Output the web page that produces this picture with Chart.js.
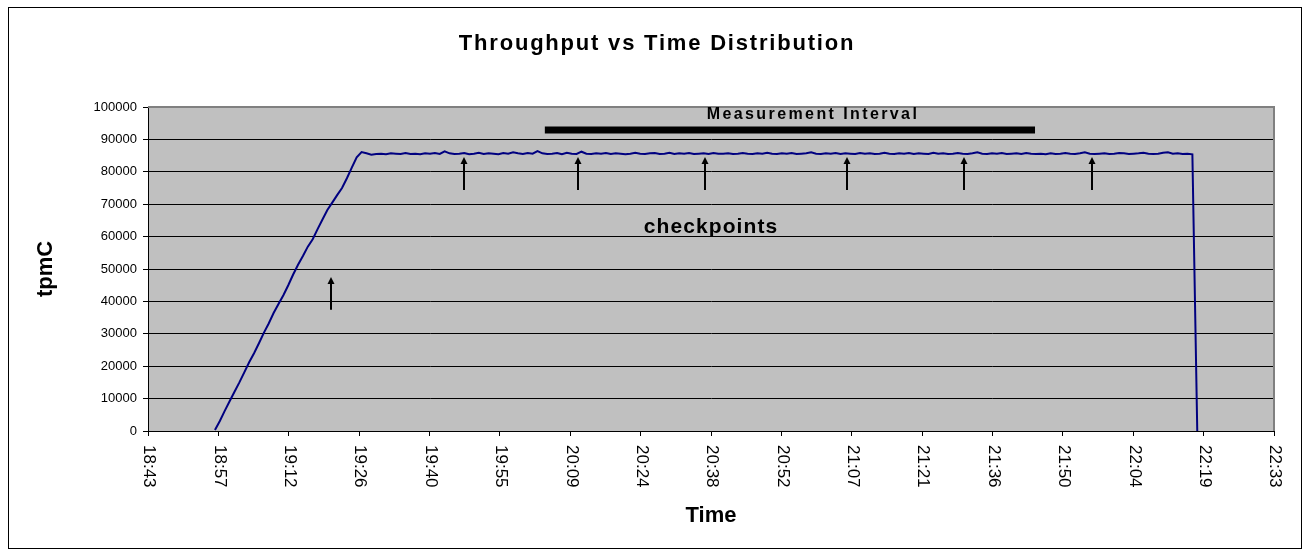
<!DOCTYPE html>
<html>
<head>
<meta charset="utf-8">
<script src="https://cdn.jsdelivr.net/npm/chart.js@4/dist/chart.umd.min.js"></script>
<style>
body{margin:0;background:#fff;}
canvas{display:block;}
</style>
</head>
<body>
<canvas id="grafico" width="1311" height="553"></canvas>
<script>
// tick labels on the time axis (one every 14.4 minutes, 0.01 day)
const timeLabels = ["18:43","18:57","19:12","19:26","19:40","19:55","20:09","20:24","20:38",
    "20:52","21:07","21:21","21:36","21:50","22:04","22:19","22:33"];
const tickStep = 14.4;

// samples: minutes after 18:43, one per minute
const sampleStart = 13.7;
const sampleStep = 1;
const tpmC = [
    300, 3100, 6200, 9200, 12100, 15000, 18100, 21200, 24000, 27100, 30300,
    33200, 36400, 39200, 41900, 45000, 48300, 51300, 54000, 56900, 59200, 62300,
    65300, 68200, 70500, 72800, 75000, 78000, 81300, 84500, 86100, 85700, 85300,
    85500, 85600, 85400, 85700, 85600, 85500, 85800, 85500, 85600, 85400, 85700, 85600,
    85800, 85500, 86300, 85700, 85500, 85600, 85800, 85400, 85600, 85900, 85500, 85700,
    85600, 85400, 85800, 85600, 86000, 85700, 85500, 85800, 85600, 86400, 85700, 85500,
    85600, 85800, 85400, 85900, 85600, 85500, 86200, 85600, 85500, 85700, 85600, 85800,
    85500, 85700, 85600, 85400, 85600, 85900, 85600, 85500, 85700, 85800, 85500, 85600,
    85900, 85500, 85700, 85600, 85800, 85500, 85600, 85700, 85500, 85800, 85600, 85600,
    85700, 85500, 85600, 85800, 85600, 85500, 85700, 85600, 85900, 85600, 85500, 85700,
    85600, 85800, 85500, 85600, 85700, 86000, 85600, 85500, 85700, 85600, 85800, 85500,
    85700, 85600, 85500, 85800, 85600, 85700, 85500, 85600, 85900, 85600, 85500, 85700,
    85600, 85800, 85500, 85700, 85600, 85500, 85900, 85600, 85700, 85500, 85600, 85800,
    85600, 85500, 85700, 86000, 85600, 85500, 85700, 85600, 85800, 85500, 85600, 85700,
    85500, 85800, 85600, 85500, 85600, 85400, 85700, 85500, 85600, 85800, 85600, 85500,
    85700, 86000, 85600, 85500, 85600, 85700, 85500, 85600, 85800, 85700, 85500, 85600,
    85700, 85900, 85600, 85500, 85600, 85900, 86000, 85600, 85700, 85500, 85600, 85400,
    0
];

// measurement interval bar
const measureTimes = [81.2, 181.5];
const measureLevel = [92900, 92900];

// checkpoint arrows
const checkpointTimes = [37.5, 64.7, 88.0, 114.0, 143.0, 167.0, 193.2];
const arrowTail = [37400, 74400, 74400, 74400, 74400, 74400, 74400];
const arrowHead = [47500, 84600, 84600, 84600, 84600, 84600, 84600];

const FONTE = 'Arial, "Liberation Sans", sans-serif';
Chart.defaults.font.family = FONTE;
Chart.defaults.color = '#000';

//Desenho extra: fundo, setas, textos, moldura

const desenho = {
    id: 'desenho',
    beforeDraw(chart){
        const {ctx, chartArea: a} = chart;
        ctx.save();
        ctx.fillStyle = '#fff';
        ctx.fillRect(0, 0, chart.width, chart.height);
        ctx.fillStyle = '#C0C0C0';
        ctx.fillRect(a.left, a.top, a.right - a.left, a.bottom - a.top);
        ctx.restore();
    },
    afterDatasetsDraw(chart){
        const {ctx} = chart;
        const x = chart.scales.x, y = chart.scales.y;
        ctx.save();
        ctx.strokeStyle = '#000';
        ctx.fillStyle = '#000';
        ctx.lineWidth = 2;
        checkpointTimes.forEach((t, i) => {
            const px = Math.round(x.getPixelForValue(t));
            const y1 = y.getPixelForValue(arrowTail[i]);
            const y2 = y.getPixelForValue(arrowHead[i]);
            ctx.beginPath();
            ctx.moveTo(px, y1);
            ctx.lineTo(px, y2 + 5);
            ctx.stroke();
            ctx.beginPath();
            ctx.moveTo(px, y2);
            ctx.lineTo(px - 3.5, y2 + 7);
            ctx.lineTo(px + 3.5, y2 + 7);
            ctx.closePath();
            ctx.fill();
        });
        ctx.restore();
    },
    afterDraw(chart){
        const {ctx, chartArea: a} = chart;
        const x = chart.scales.x;
        ctx.save();

        // plot area border (top and right)
        ctx.strokeStyle = '#808080';
        ctx.lineWidth = 2;
        ctx.beginPath();
        ctx.moveTo(a.left, a.top);
        ctx.lineTo(a.right, a.top);
        ctx.lineTo(a.right, a.bottom);
        ctx.stroke();

        // time labels, rotated clockwise
        ctx.fillStyle = '#000';
        ctx.font = '17px ' + FONTE;
        ctx.textAlign = 'left';
        ctx.textBaseline = 'middle';
        x.ticks.forEach((tk, i) => {
            const px = x.getPixelForValue(tk.value);
            ctx.save();
            ctx.translate(px + 1, 445);
            ctx.rotate(Math.PI / 2);
            ctx.fillText(timeLabels[i], 0, 0);
            ctx.restore();
        });

        // texts
        ctx.textAlign = 'center';
        ctx.textBaseline = 'alphabetic';
        ctx.font = 'bold 22px ' + FONTE;
        ctx.letterSpacing = '1.8px';
        ctx.fillText('Throughput vs Time Distribution', 657, 50);
        ctx.font = 'bold 16px ' + FONTE;
        ctx.letterSpacing = '2.4px';
        ctx.fillText('Measurement Interval', 813, 119);
        ctx.font = 'bold 21px ' + FONTE;
        ctx.letterSpacing = '1.1px';
        ctx.fillText('checkpoints', 711, 233);
        ctx.letterSpacing = '0px';

        // frame
        ctx.strokeStyle = '#000';
        ctx.lineWidth = 1;
        ctx.strokeRect(8.5, 7.5, 1293, 541);
        ctx.restore();
    }
};

//Gráfico Linha

function graficoThroughput(){

    new Chart(

        document.getElementById("grafico"),

        {

        type: "line",

        data: {

            datasets: [{

                label: "tpmC",

                data: tpmC.map((v, i) => ({x: sampleStart + i * sampleStep, y: v})),

                borderColor: "#000080",

                borderWidth: 2,

                pointRadius: 0,

                tension: 0

            }, {

                label: "Measurement Interval",

                data: measureTimes.map((t, i) => ({x: t, y: measureLevel[i]})),

                borderColor: "#000",

                borderWidth: 7,

                borderCapStyle: "butt",

                pointRadius: 0

            }]

        },

        options: {

            responsive: false,

            animation: false,

            devicePixelRatio: 1,

            layout: {padding: {top: 107, right: 37, left: 0, bottom: 0}},

            plugins: {
                legend: {display: false},
                tooltip: {enabled: false},
                title: {display: false}
            },

            scales: {

                x: {
                    type: "linear",
                    min: 0,
                    max: tickStep * (timeLabels.length - 1),
                    afterBuildTicks: s => {
                        s.ticks = timeLabels.map((l, i) => ({value: i * tickStep}));
                    },
                    afterFit: s => { s.height = 122; },
                    ticks: {display: false},
                    grid: {drawOnChartArea: false, drawTicks: true, tickLength: 5, color: "#000"},
                    border: {color: "#000", width: 1},
                    title: {
                        display: true,
                        text: "Time",
                        color: "#000",
                        font: {size: 22, weight: "bold"},
                        padding: {top: 0, bottom: 24}
                    }
                },

                y: {
                    min: 0,
                    max: 100000,
                    afterFit: s => { s.width = 148; },
                    ticks: {
                        stepSize: 10000,
                        color: "#000",
                        padding: 6,
                        font: {size: 13},
                        callback: v => v
                    },
                    grid: {
                        color: c => c.tick && c.tick.value === 100000 ? "#808080" : "#000",
                        tickColor: "#000",
                        tickLength: 5
                    },
                    border: {color: "#000", width: 1},
                    title: {
                        display: true,
                        text: "tpmC",
                        color: "#000",
                        font: {size: 22, weight: "bold"},
                        padding: {top: 33, bottom: 0}
                    }
                }

            }

        },

        plugins: [desenho]

        }

    );

}

graficoThroughput();
</script>
</body>
</html>
